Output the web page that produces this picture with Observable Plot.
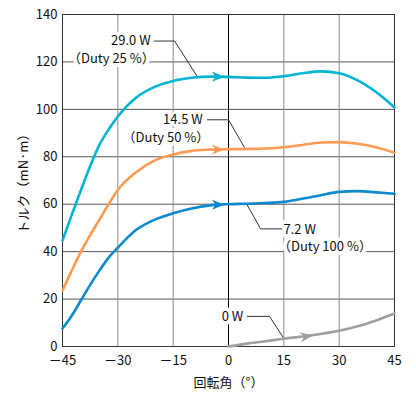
<!DOCTYPE html>
<html><head><meta charset="utf-8">
<script src="https://cdn.jsdelivr.net/npm/d3@7"></script>
<script src="https://cdn.jsdelivr.net/npm/@observablehq/plot@0.6"></script>
<style>body{margin:0;background:#fff} #chart{width:416px;height:396px}</style>
</head><body><div id="chart"></div>
<script>
// ---- data ----
const angles = [-45,-42.5,-40,-37.5,-35,-32.5,-30,-25,-20,-15,-10,-5,0,5,10,15,20,25,30,35,40,45];
const torque29W = [44.7,55.5,66,76,85,91.5,97,105,109.5,112,113.3,113.8,113.7,113.4,113.3,114,115.2,116,115.2,112.2,107.3,100.8];
const torque14W = [23.6,32,40,47,53.5,60,66,73.5,78.5,81,82.5,83,83.2,83.3,83.5,84,85,86,86.2,85.5,84,81.7];
const torque7W  = [7.6,13,19.5,26,32,37.5,41.7,49.2,53.5,56.2,58.2,59.5,60,60.2,60.5,61,62.3,63.8,65.2,65.5,65,64.4];
const angles0W  = [0,5,10,15,20,25,30,35,40,45];
const torque0W  = [0,1.2,2.2,3.3,4.2,5.3,6.6,8.5,11,13.9];

const xTicks = [-45,-30,-15,0,15,30,45];
const yTicks = [0,20,40,60,80,100,120,140];

const seriesNames  = ["29.0 W","14.5 W","7.2 W","0 W"];
const seriesColors = ["#00b4d2","#ff9a52","#0b8ad0","#a39d9d"];

// arrowheads on curves
const arrowAngle = [-3,-3,-3,21];
const arrowTorque = [113.8,83.1,59.8,4.2];
const arrowRotate = [90,90,90,82];

// annotation texts
const labelTexts = ["29.0 W","（Duty 25 %）","14.5 W","（Duty 50 %）","7.2 W","（Duty 100 %）","0 W"];
const labelX = [-21.1,-20.0,-7.0,-5.2,14.9,13.4,4.0];
const labelY = [128.8,121.5,95.6,88.1,49.3,41.9,12.7];
const labelAnchor = ["end","end","end","end","start","start","end"];
const labelHalo = [8,8,5,8,8,8,8];

// leader lines (angle, torque) per label
const leaders = [
  [[-20.1,128.8],[-14.6,128.8],[-8.5,113.9]],
  [[-5.7,95.6],[0,95.6],[4.3,84]],
  [[5.1,59.6],[8.7,49.6],[14.6,49.6]],
  [[5.1,12.7],[11.1,12.7],[14.8,3.9]]
];

// ---- build tables ----
const curveRows = [];
[[angles,torque29W],[angles,torque14W],[angles,torque7W],[angles0W,torque0W]].forEach(([xs,ys],i)=>{
  xs.forEach((x,j)=>curveRows.push({series:seriesNames[i],angle:x,torque:ys[j]}));
});
const arrowRows = seriesNames.map((s,i)=>({series:s,angle:arrowAngle[i],torque:arrowTorque[i],rot:arrowRotate[i]}));
const labelRows = labelTexts.map((t,i)=>({text:t,angle:labelX[i],torque:labelY[i],anchor:labelAnchor[i],halo:labelHalo[i]}));
const leaderRows = leaders.flatMap((pts,i)=>pts.map(([a,t])=>({id:i,angle:a,torque:t})));

const arrowSymbol = {
  draw(ctx, size){
    const s = Math.sqrt(size/Math.PI);
    ctx.moveTo(0,-s*1.25);
    ctx.lineTo(s*0.9,s);
    ctx.lineTo(0,s*0.35);
    ctx.lineTo(-s*0.9,s);
    ctx.closePath();
  }
};

const font = "'Noto Sans CJK JP', 'Noto Sans', sans-serif";
const fmt = d => d < 0 ? "－" + Math.abs(d) : String(d);

const textMarks = [];
for (const anchor of ["start","end"]) for (const halo of [5,8]) {
  textMarks.push(Plot.text(labelRows, {x: "angle", y: "torque", text: "text", textAnchor: anchor,
    filter: d => d.anchor === anchor && d.halo === halo,
    fill: "#111", stroke: "white", strokeWidth: halo, fontSize: 13}));
}

const chart = Plot.plot({
  width: 416, height: 396,
  marginLeft: 62, marginRight: 22, marginTop: 14, marginBottom: 50,
  style: {fontFamily: font, fontSize: "13px", color: "#111", background: "#fff"},
  x: {domain: [-45,45]},
  y: {domain: [0,140]},
  color: {domain: seriesNames, range: seriesColors},
  marks: [
    Plot.ruleY(yTicks, {stroke: "#555", strokeWidth: 1}),
    Plot.ruleX(xTicks, {stroke: d => d === 0 ? "#000" : (Math.abs(d) === 45 ? "#333" : "#8c8c8c"), strokeWidth: 1}),
    Plot.frame({stroke: "#333"}),
    Plot.axisX(xTicks, {tickSize: 0, tickPadding: 9, tickFormat: fmt, fontSize: 13,
      label: "回転角（°）", labelAnchor: "center", labelArrow: "none", labelOffset: 40}),
    Plot.axisY(yTicks, {tickSize: 0, tickPadding: 5, fontSize: 13,
      label: "トルク（mN·m）", labelAnchor: "center", labelArrow: "none", labelOffset: 44}),
    Plot.line(leaderRows, {x: "angle", y: "torque", z: "id", stroke: "#333", strokeWidth: 1}),
    Plot.line(curveRows, {x: "angle", y: "torque", z: "series", stroke: "series", strokeWidth: 2.6, curve: "monotone-x"}),
    Plot.dot(arrowRows, {x: "angle", y: "torque", fill: "series", stroke: "none", symbol: arrowSymbol, r: 5.6, rotate: "rot"}),
    ...textMarks
  ]
});
document.getElementById("chart").appendChild(chart);
</script>
</body></html>
